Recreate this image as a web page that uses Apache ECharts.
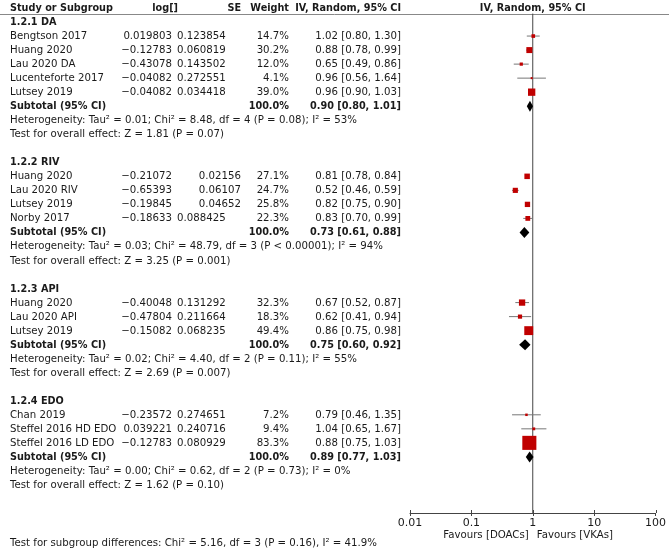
<!DOCTYPE html>
<html><head><meta charset="utf-8">
<script src="https://cdn.jsdelivr.net/npm/echarts@6/dist/echarts.min.js"></script>
<style>html,body{margin:0;padding:0;background:#fff}#c{width:669px;height:550px}</style>
</head><body><div id="c"></div>
<script>
// ---- data ----
const groupTitles = ['1.2.1 DA', '1.2.2 RIV', '1.2.3 API', '1.2.4 EDO'];
const studyNames = ['Bengtson 2017', 'Huang 2020', 'Lau 2020 DA', 'Lucenteforte 2017', 'Lutsey 2019',
  'Huang 2020', 'Lau 2020 RIV', 'Lutsey 2019', 'Norby 2017',
  'Huang 2020', 'Lau 2020 API', 'Lutsey 2019',
  'Chan 2019', 'Steffel 2016 HD EDO', 'Steffel 2016 LD EDO'];
const studyGroup = [0, 0, 0, 0, 0, 1, 1, 1, 1, 2, 2, 2, 3, 3, 3];
const logVals = [0.019803, -0.12783, -0.43078, -0.04082, -0.04082,
  -0.21072, -0.65393, -0.19845, -0.18633,
  -0.40048, -0.47804, -0.15082,
  -0.23572, 0.039221, -0.12783];
const seVals = [0.123854, 0.060819, 0.143502, 0.272551, 0.034418,
  0.02156, 0.06107, 0.04652, 0.088425,
  0.131292, 0.211664, 0.068235,
  0.274651, 0.240716, 0.080929];
const weights = [14.7, 30.2, 12.0, 4.1, 39.0, 27.1, 24.7, 25.8, 22.3, 32.3, 18.3, 49.4, 7.2, 9.4, 83.3];
const estimates = [1.02, 0.88, 0.65, 0.96, 0.96, 0.81, 0.52, 0.82, 0.83, 0.67, 0.62, 0.86, 0.79, 1.04, 0.88];
const lowers = [0.80, 0.78, 0.49, 0.56, 0.90, 0.78, 0.46, 0.75, 0.70, 0.52, 0.41, 0.75, 0.46, 0.65, 0.75];
const uppers = [1.30, 0.99, 0.86, 1.64, 1.03, 0.84, 0.59, 0.90, 0.99, 0.87, 0.94, 0.98, 1.35, 1.67, 1.03];
const subEst = [0.90, 0.73, 0.75, 0.89];
const subLo = [0.80, 0.61, 0.60, 0.77];
const subHi = [1.01, 0.88, 0.92, 1.03];
const hetTexts = [
  'Heterogeneity: Tau² = 0.01; Chi² = 8.48, df = 4 (P = 0.08); I² = 53%',
  'Heterogeneity: Tau² = 0.03; Chi² = 48.79, df = 3 (P < 0.00001); I² = 94%',
  'Heterogeneity: Tau² = 0.02; Chi² = 4.40, df = 2 (P = 0.11); I² = 55%',
  'Heterogeneity: Tau² = 0.00; Chi² = 0.62, df = 2 (P = 0.73); I² = 0%'];
const testTexts = [
  'Test for overall effect: Z = 1.81 (P = 0.07)',
  'Test for overall effect: Z = 3.25 (P = 0.001)',
  'Test for overall effect: Z = 2.69 (P = 0.007)',
  'Test for overall effect: Z = 1.62 (P = 0.10)'];
const subgroupDiffText = 'Test for subgroup differences: Chi² = 5.16, df = 3 (P = 0.16), I² = 41.9%';
const xTicks = [0.01, 0.1, 1, 10, 100];
const headers = ['Study or Subgroup', 'log[]', 'SE', 'Weight', 'IV, Random, 95% CI', 'IV, Random, 95% CI'];
const favLeft = 'Favours [DOACs]';
const favRight = 'Favours [VKAs]';

// ---- row layout ----
const studyRow = [], titleRow = [], subRow = [], hetRow = [], testRow = [];
let r = 1;
for (let g = 0; g < groupTitles.length; g++) {
  titleRow.push(r++);
  studyGroup.forEach((gg, i) => { if (gg === g) studyRow[i] = r++; });
  subRow.push(r++); hetRow.push(r++); testRow.push(r++); r++;
}
const AXIS_ROW = 36;

const FONT = 'DejaVu Sans';
const FS = 10.2;
const FSB = 9.7;
const TXT = '#1a1a1a';
const fmtNum = v => String(v).replace('-', '\u2212');
const ci = (e, l, h) => e.toFixed(2) + ' [' + l.toFixed(2) + ', ' + h.toFixed(2) + ']';

const chart = echarts.init(document.getElementById('c'), null, {renderer: 'canvas'});
chart.setOption({
  animation: false,
  backgroundColor: '#fff',
  grid: {left: 410, right: 8, top: 8, bottom: 37},
  xAxis: {
    type: 'log', logBase: 10, min: xTicks[0], max: xTicks[xTicks.length - 1],
    position: 'bottom',
    splitLine: {show: false}, minorTick: {show: false},
    axisLine: {show: true, onZero: false, lineStyle: {color: '#444', width: 1}},
    axisTick: {show: true, length: 3, lineStyle: {color: '#444'}},
    axisLabel: {fontFamily: FONT, fontSize: 11, color: TXT, margin: 5,
      formatter: v => String(+v.toPrecision(3))}
  },
  yAxis: {type: 'value', inverse: true, min: 0, max: AXIS_ROW, show: false},
  series: [
    {
      type: 'line', data: [[1, 0.4], [1, AXIS_ROW]], symbol: 'none', silent: true,
      lineStyle: {color: '#444', width: 1}, z: 1
    },
    {
      // upper half of the axis ticks
      type: 'custom', z: 1, silent: true, clip: false,
      data: xTicks.map(v => [v, AXIS_ROW]),
      renderItem: (params, api) => {
        const p = api.coord([api.value(0), api.value(1)]);
        const x = Math.round(p[0]) + 0.5;
        return {type: 'line', shape: {x1: x, y1: p[1], x2: x, y2: p[1] - 3},
          style: {stroke: '#444', lineWidth: 1}};
      }
    },
    {
      type: 'custom', z: 2,
      data: studyNames.map((n, i) => [lowers[i], uppers[i], studyRow[i]]),
      encode: {x: [0, 1], y: 2},
      renderItem: (params, api) => {
        const p1 = api.coord([api.value(0), api.value(2)]);
        const p2 = api.coord([api.value(1), api.value(2)]);
        return {type: 'line', shape: {x1: p1[0], y1: p1[1], x2: p2[0], y2: p2[1]},
          style: {stroke: '#777', lineWidth: 1}};
      }
    },
    {
      type: 'scatter', z: 3, symbol: 'rect',
      data: studyNames.map((n, i) => [estimates[i], studyRow[i], weights[i]]),
      symbolSize: v => 1.4 + 0.152 * v[2],
      itemStyle: {color: '#c00000', opacity: 1}
    },
    {
      type: 'custom', z: 4,
      data: groupTitles.map((t, g) => [subLo[g], subEst[g], subHi[g], subRow[g]]),
      encode: {x: [0, 1, 2], y: 3},
      renderItem: (params, api) => {
        const row = api.value(3);
        const pl = api.coord([api.value(0), row]);
        const pe = api.coord([api.value(1), row]);
        const ph = api.coord([api.value(2), row]);
        const hh = 5.5;
        return {type: 'polygon', shape: {points: [[pl[0], pe[1]], [pe[0], pe[1] - hh], [ph[0], pe[1]], [pe[0], pe[1] + hh]]},
          style: {fill: '#000'}};
      }
    }
  ]
});

// ---- table text ----
const yPix = row => chart.convertToPixel({yAxisIndex: 0}, row);
const xPix = v => chart.convertToPixel({xAxisIndex: 0}, v);
const els = [];
function txt(s, x, row, align, bold) {
  els.push({type: 'text', x: x, y: Math.round(yPix(row)), silent: true,
    style: {text: s, fontFamily: FONT, fontSize: bold ? FSB : FS, fontWeight: bold ? 'bold' : 'normal',
      fill: TXT, textAlign: align, textVerticalAlign: 'middle'}});
}
const X_NAME = 10, X_LOG = 172, X_SE = 241, X_SE6 = 177, X_W = 289, X_CI = 401;
// header
txt(headers[0], X_NAME, 0, 'left', true);
txt(headers[1], 178, 0, 'right', true);
txt(headers[2], X_SE, 0, 'right', true);
txt(headers[3], X_W, 0, 'right', true);
txt(headers[4], X_CI, 0, 'right', true);
txt(headers[5], xPix(1), 0, 'center', true);
els.push({type: 'line', silent: true, shape: {x1: 0, y1: Math.round(yPix(0.4)) + 0.5, x2: 669, y2: Math.round(yPix(0.4)) + 0.5},
  style: {stroke: '#888', lineWidth: 1}});
for (let g = 0; g < groupTitles.length; g++) {
  txt(groupTitles[g], X_NAME, titleRow[g], 'left', true);
  txt('Subtotal (95% CI)', X_NAME, subRow[g], 'left', true);
  txt('100.0%', X_W, subRow[g], 'right', true);
  txt(ci(subEst[g], subLo[g], subHi[g]), X_CI, subRow[g], 'right', true);
  txt(hetTexts[g], X_NAME, hetRow[g], 'left', false);
  txt(testTexts[g], X_NAME, testRow[g], 'left', false);
}
studyNames.forEach((n, i) => {
  const row = studyRow[i];
  txt(n, X_NAME, row, 'left', false);
  txt(fmtNum(logVals[i]), X_LOG, row, 'right', false);
  const se = fmtNum(seVals[i]);
  if (se.length > 7) txt(se, X_SE6, row, 'left', false); else txt(se, X_SE, row, 'right', false);
  txt(weights[i].toFixed(1) + '%', X_W, row, 'right', false);
  txt(ci(estimates[i], lowers[i], uppers[i]), X_CI, row, 'right', false);
});
// favours labels
const favRow = AXIS_ROW + 1.6;
txt(favLeft, xPix(1) - 4, favRow, 'right', false);
txt(favRight, xPix(1) + 4, favRow, 'left', false);
txt(subgroupDiffText, X_NAME, AXIS_ROW + 2.15, 'left', false);
chart.setOption({graphic: {elements: els}});
</script>
</body></html>
